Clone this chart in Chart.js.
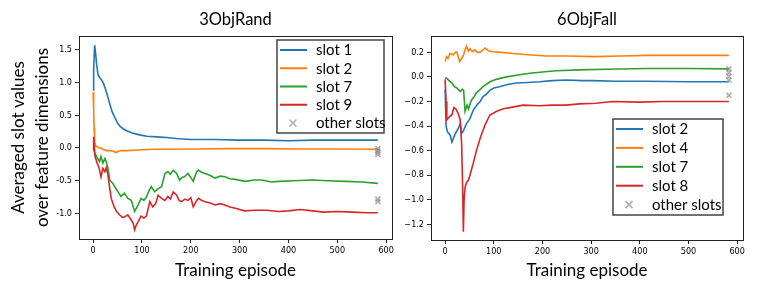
<!DOCTYPE html>
<html>
<head>
<meta charset="utf-8">
<script src="https://cdn.jsdelivr.net/npm/chart.js@4.4.1/dist/chart.umd.min.js"></script>
<style>
  html, body { margin: 0; padding: 0; background: #fff; }
  #wrap { position: relative; width: 761px; height: 286px; overflow: hidden; }
  canvas { position: absolute; top: 0; }
  #left { left: 0; }
  #right { left: 395px; }
</style>
</head>
<body>
<div id="wrap">
  <canvas id="left" width="400" height="286"></canvas>
  <canvas id="right" width="366" height="286"></canvas>
</div>
<script>
// ---- tick labels ----
const xTicks = [0, 100, 200, 300, 400, 500, 600]
const randYTicks = [-1.0, -0.5, 0.0, 0.5, 1.0, 1.5]
const fallYTicks = [-1.2, -1.0, -0.8, -0.6, -0.4, -0.2, 0.0, 0.2]

// ---- 3ObjRand ----
const randSlot1Ep = [0, 1, 3, 5, 7, 10, 13, 17, 21, 26, 30, 34, 39, 44, 50, 55, 62, 70, 80, 95, 110, 130, 150, 175, 200, 250, 300, 350, 400, 450, 500, 550, 583]
const randSlot1 = [0.88, 1.2, 1.57, 1.45, 1.28, 1.12, 1.08, 1.04, 0.99, 0.88, 0.78, 0.67, 0.55, 0.47, 0.38, 0.33, 0.29, 0.26, 0.23, 0.2, 0.18, 0.17, 0.16, 0.14, 0.13, 0.13, 0.12, 0.12, 0.11, 0.12, 0.12, 0.12, 0.12]

const randSlot2Ep = [0, 1, 2, 3, 5, 8, 12, 16, 20, 27, 35, 41, 47, 52, 57, 70, 92, 120, 160, 215, 280, 350, 420, 500, 583]
const randSlot2 = [0.85, 0.6, 0.3, 0.1, 0.03, 0.02, 0.0, 0.0, -0.02, -0.04, -0.04, -0.05, -0.07, -0.05, -0.04, -0.04, -0.03, -0.02, -0.02, -0.015, -0.01, -0.01, -0.015, -0.015, -0.02]

const randSlot7Ep = [0, 2, 4, 6, 9, 13, 16, 20, 24, 27, 30, 34, 40, 45, 51, 57, 64, 71, 78, 85, 92, 98, 104, 109, 114, 119, 126, 133, 140, 147, 153, 158, 164, 171, 177, 182, 187, 194, 200, 205, 212, 216, 222, 229, 240, 250, 260, 270, 280, 291, 311, 330, 346, 365, 380, 410, 448, 480, 517, 550, 583]
const randSlot7 = [0.0, -0.05, -0.1, -0.11, -0.16, -0.21, -0.13, -0.23, -0.16, -0.21, -0.3, -0.49, -0.54, -0.6, -0.67, -0.74, -0.69, -0.77, -0.8, -0.97, -0.87, -0.77, -0.8, -0.75, -0.66, -0.59, -0.67, -0.62, -0.59, -0.39, -0.36, -0.4, -0.34, -0.39, -0.49, -0.45, -0.44, -0.39, -0.45, -0.51, -0.36, -0.34, -0.37, -0.39, -0.42, -0.46, -0.43, -0.44, -0.47, -0.48, -0.51, -0.49, -0.49, -0.52, -0.51, -0.5, -0.49, -0.5, -0.51, -0.52, -0.54]

const randSlot9Ep = [0, 1, 4, 8, 12, 16, 20, 24, 27, 30, 34, 37, 43, 48, 54, 60, 65, 71, 78, 82, 85, 88, 92, 98, 104, 109, 116, 122, 128, 133, 140, 147, 153, 158, 164, 171, 176, 181, 188, 194, 200, 205, 212, 216, 222, 229, 240, 250, 260, 270, 280, 291, 310, 330, 355, 380, 400, 424, 450, 472, 500, 530, 560, 583]
const randSlot9 = [0.0, 0.17, -0.13, -0.23, -0.3, -0.44, -0.31, -0.36, -0.3, -0.4, -0.62, -0.77, -0.9, -0.97, -1.02, -1.06, -1.05, -1.02, -1.1, -1.15, -1.25, -1.18, -1.13, -1.04, -1.07, -1.04, -0.82, -0.9, -0.85, -0.72, -0.77, -0.8, -0.74, -0.78, -0.67, -0.72, -0.8, -0.82, -0.78, -0.8, -0.76, -0.9, -0.8, -0.77, -0.8, -0.82, -0.84, -0.87, -0.85, -0.87, -0.9, -0.92, -0.96, -0.95, -0.95, -0.97, -0.96, -0.94, -0.96, -0.98, -0.97, -0.98, -0.99, -0.99]

const randOtherEp = [583, 583, 583, 583, 583, 583]
const randOther = [-0.01, -0.04, -0.07, -0.1, -0.78, -0.82]

// ---- 6ObjFall ----
const fallSlot2Ep = [0, 2, 5, 10, 14, 20, 27, 31, 34, 37.5, 44, 51, 58, 65, 72, 78, 85, 92, 100, 112, 130, 147, 170, 194, 220, 249, 280, 304, 350, 413, 500, 583]
const fallSlot2 = [-0.1, -0.4, -0.45, -0.47, -0.53, -0.47, -0.42, -0.38, -0.46, -0.44, -0.38, -0.34, -0.27, -0.23, -0.2, -0.16, -0.14, -0.11, -0.09, -0.08, -0.06, -0.05, -0.045, -0.04, -0.03, -0.025, -0.03, -0.03, -0.035, -0.035, -0.04, -0.04]

const fallSlot4Ep = [0, 3, 6, 10, 17, 21, 24, 28, 30, 34, 38, 41, 44, 48, 51, 56, 61, 66, 72, 77, 82, 90, 99, 115, 140, 170, 208, 250, 307, 360, 416, 500, 583]
const fallSlot4 = [0.125, 0.165, 0.15, 0.19, 0.18, 0.2, 0.205, 0.15, 0.125, 0.15, 0.18, 0.22, 0.25, 0.21, 0.23, 0.205, 0.22, 0.2, 0.2, 0.215, 0.235, 0.21, 0.205, 0.2, 0.19, 0.18, 0.17, 0.17, 0.165, 0.17, 0.175, 0.175, 0.175]

const fallSlot7Ep = [0, 3, 8, 14, 19, 24, 31, 35, 38, 41, 45, 48, 54, 60, 64, 70, 78, 85, 92, 105, 126, 150, 174, 200, 228, 276, 330, 413, 500, 583]
const fallSlot7 = [-0.01, -0.01, -0.03, -0.05, -0.08, -0.09, -0.12, -0.1, -0.11, -0.28, -0.23, -0.26, -0.19, -0.16, -0.13, -0.11, -0.08, -0.06, -0.04, -0.02, 0.0, 0.015, 0.03, 0.04, 0.05, 0.057, 0.062, 0.068, 0.068, 0.065]

const fallSlot8Ep = [0, 2, 3.5, 10, 14, 18, 22, 27, 31, 34, 36, 37.5, 39, 41, 44, 48, 51, 58, 65, 72, 82, 92, 106, 120, 133, 160, 194, 220, 249, 276, 310, 344, 400, 447, 500, 583]
const fallSlot8 = [-0.02, -0.2, -0.35, -0.32, -0.31, -0.25, -0.26, -0.3, -0.35, -0.55, -0.9, -1.26, -1.0, -0.9, -0.86, -0.84, -0.8, -0.7, -0.59, -0.5, -0.39, -0.31, -0.28, -0.26, -0.25, -0.23, -0.235, -0.23, -0.23, -0.22, -0.215, -0.2, -0.205, -0.2, -0.2, -0.2]

const fallOtherEp = [583, 583, 583, 583, 583]
const fallOther = [0.065, 0.035, 0.005, -0.025, -0.15]

const BLUE = "#1f77b4", ORANGE = "#ff7f0e", GREEN = "#2ca02c", RED = "#d62728"
const GREY = "rgba(140,140,140,0.7)"
const TEXT_FONT = "Lato, 'Open Sans', sans-serif"
const TICK_FONT = "'DejaVu Sans Condensed', 'DejaVu Sans', sans-serif"

function pts(eps, vals) {
  return eps.map((e, i) => ({ x: e, y: vals[i] }))
}

function lineSet(label, eps, vals, color) {
  return { label, data: pts(eps, vals), borderColor: color, backgroundColor: color,
    borderWidth: 1.6, pointRadius: 0, tension: 0, fill: false }
}

function otherSet(eps, vals) {
  return { label: "other slots", data: pts(eps, vals), showLine: false,
    borderColor: GREY, backgroundColor: GREY, borderWidth: 1.6,
    pointStyle: "crossRot", pointRadius: 3.5, isMarker: true }
}

// frame, panel title and the boxed legend inside the plot
const panelDecor = {
  id: "panelDecor",
  afterDraw(chart, args, opts) {
    const { ctx, chartArea: a } = chart
    ctx.save()
    ctx.strokeStyle = "#222"
    ctx.lineWidth = 1
    ctx.strokeRect(Math.round(a.left) + 0.5, Math.round(a.top) + 0.5,
      Math.round(a.right - a.left), Math.round(a.bottom - a.top))

    // title
    ctx.fillStyle = "#000"
    ctx.font = "16.5px " + TEXT_FONT
    ctx.textAlign = "center"
    ctx.textBaseline = "alphabetic"
    ctx.fillText(opts.title, (a.left + a.right) / 2, 25)

    // legend
    const lg = opts.legend
    const bx = a.right - lg.right - lg.width
    const by = a.top + lg.top
    ctx.fillStyle = "#fff"
    ctx.fillRect(bx, by, lg.width, lg.height)
    ctx.strokeStyle = "#444"
    ctx.lineWidth = 1.5
    ctx.strokeRect(bx, by, lg.width, lg.height)
    ctx.font = "15px " + TEXT_FONT
    ctx.textAlign = "left"
    ctx.textBaseline = "middle"
    chart.data.datasets.forEach((ds, i) => {
      const y = by + 10 + i * lg.step
      if (ds.isMarker) {
        const cx = bx + 16, r = 3.5
        ctx.strokeStyle = ds.borderColor
        ctx.lineWidth = 1.6
        ctx.beginPath()
        ctx.moveTo(cx - r, y - r); ctx.lineTo(cx + r, y + r)
        ctx.moveTo(cx - r, y + r); ctx.lineTo(cx + r, y - r)
        ctx.stroke()
      } else {
        ctx.strokeStyle = ds.borderColor
        ctx.lineWidth = 2
        ctx.beginPath()
        ctx.moveTo(bx + 3, y); ctx.lineTo(bx + 30, y)
        ctx.stroke()
      }
      ctx.fillStyle = "#000"
      ctx.fillText(ds.label, bx + 39, y + 0.5)
    })
    ctx.restore()
  }
}

function makeChart(id, cfg) {
  const datasets = cfg.datasets.map((d, i) => Object.assign(d, { order: cfg.datasets.length - i }))
  return new Chart(document.getElementById(id), {
    type: "line",
    data: { datasets },
    options: {
      responsive: false,
      animation: false,
      layout: { padding: { top: 36, right: cfg.padRight, left: 0, bottom: 0 } },
      plugins: {
        legend: { display: false },
        tooltip: { enabled: false },
        panelDecor: { title: cfg.title, legend: cfg.legend }
      },
      scales: {
        x: {
          type: "linear",
          min: -29,
          max: 612,
          afterBuildTicks: s => { s.ticks = xTicks.map(v => ({ value: v })) },
          afterFit: s => { s.height = cfg.xHeight },
          grid: { display: true, drawOnChartArea: false, tickLength: 4, color: "#222" },
          border: { display: false },
          ticks: { font: { family: TICK_FONT, size: 9 }, color: "#000", padding: 2, maxRotation: 0 },
          title: { display: true, text: "Training episode", color: "#000",
            font: { family: TEXT_FONT, size: 17, lineHeight: 1.2 }, padding: { top: 0, bottom: 5 } }
        },
        y: {
          type: "linear",
          min: cfg.yMin,
          max: cfg.yMax,
          afterBuildTicks: s => { s.ticks = cfg.yTicks.map(v => ({ value: v })) },
          afterFit: s => { s.width = cfg.yWidth },
          grid: { display: true, drawOnChartArea: false, tickLength: 4, color: "#222" },
          border: { display: false },
          ticks: { font: { family: TICK_FONT, size: 9 }, color: "#000", padding: 3,
            callback: cfg.yFormat },
          title: cfg.yTitle
        }
      }
    },
    plugins: [panelDecor]
  })
}

makeChart("left", {
  title: "3ObjRand",
  padRight: 8,
  xHeight: 47,
  yWidth: 79,
  yMin: -1.39,
  yMax: 1.71,
  yTicks: randYTicks,
  yFormat: v => v.toFixed(1),
  yTitle: { display: true, text: ["Averaged slot values", "over feature dimensions"], color: "#000",
    font: { family: TEXT_FONT, size: 17, lineHeight: 1.45 }, padding: { top: 6, bottom: 0 } },
  legend: { right: 8, top: 4, width: 107, height: 93, step: 18.25 },
  datasets: [
    lineSet("slot 1", randSlot1Ep, randSlot1, BLUE),
    lineSet("slot 2", randSlot2Ep, randSlot2, ORANGE),
    lineSet("slot 7", randSlot7Ep, randSlot7, GREEN),
    lineSet("slot 9", randSlot9Ep, randSlot9, RED),
    otherSet(randOtherEp, randOther)
  ]
})

makeChart("right", {
  title: "6ObjFall",
  padRight: 18,
  xHeight: 46,
  yWidth: 36,
  yMin: -1.328,
  yMax: 0.333,
  yTicks: fallYTicks,
  yFormat: v => v.toFixed(1).replace("-", "\u2212"),
  yTitle: { display: false },
  legend: { right: 20, top: 83, width: 110, height: 96, step: 18.9 },
  datasets: [
    lineSet("slot 2", fallSlot2Ep, fallSlot2, BLUE),
    lineSet("slot 4", fallSlot4Ep, fallSlot4, ORANGE),
    lineSet("slot 7", fallSlot7Ep, fallSlot7, GREEN),
    lineSet("slot 8", fallSlot8Ep, fallSlot8, RED),
    otherSet(fallOtherEp, fallOther)
  ]
})
</script>
</body>
</html>
